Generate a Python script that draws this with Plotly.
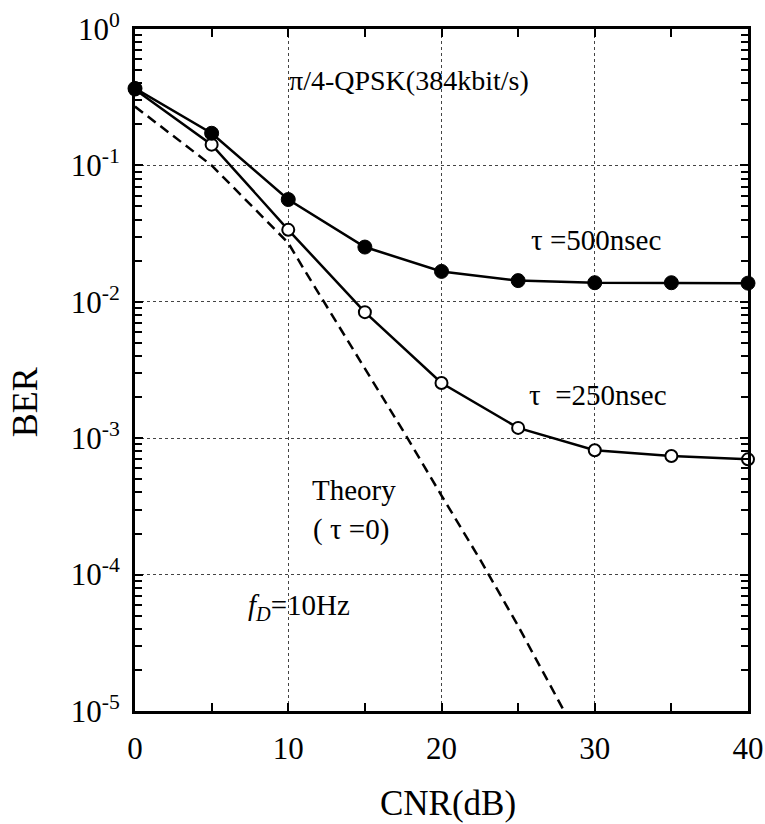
import plotly.graph_objects as go

# ---- data ----
cnr = [0, 5, 10, 15, 20, 25, 30, 35, 40]
ber_500 = [0.367, 0.172, 0.0562, 0.0252, 0.0167, 0.0143, 0.0138, 0.0138, 0.0137]
ber_250 = [0.36, 0.142, 0.0337, 0.0084, 0.00254, 0.00119, 0.000815, 0.00074, 0.00070]

cnr_theory = [0, 2.5, 5, 7.5, 10, 11, 12.5, 15, 17.5, 20, 22.5, 25, 28]
ber_theory = [0.27, 0.165, 0.1, 0.052, 0.027, 0.0175, 0.0093, 0.0032, 0.00113,
              0.00038, 0.00013, 4.2e-5, 1e-5]

x_ticks = [0, 10, 20, 30, 40]
x_minor = [5, 15, 25, 35]
y_ticks = [1e-5, 1e-4, 1e-3, 1e-2, 1e-1, 1]
y_ticktext = ["10<sup>-5</sup>", "10<sup>-4</sup>", "10<sup>-3</sup>",
              "10<sup>-2</sup>", "10<sup>-1</sup>", "10<sup>0</sup>"]
y_minor = [m * 10.0 ** e for e in range(-5, 0) for m in range(2, 10)]

FONT = "Liberation Serif, Times New Roman, serif"

fig = go.Figure()

fig.add_trace(go.Scatter(
    x=cnr_theory, y=ber_theory, mode="lines",
    line=dict(color="black", width=2.5, dash="10px,6px"),
    showlegend=False, cliponaxis=True))

fig.add_trace(go.Scatter(
    x=cnr, y=ber_250, mode="lines+markers",
    line=dict(color="black", width=2.5),
    marker=dict(symbol="circle", size=12, color="white",
                line=dict(color="black", width=2)),
    showlegend=False, cliponaxis=False))

fig.add_trace(go.Scatter(
    x=cnr, y=ber_500, mode="lines+markers",
    line=dict(color="black", width=2.5),
    marker=dict(symbol="circle", size=14, color="black",
                line=dict(color="black", width=1)),
    showlegend=False, cliponaxis=False))

grid = dict(showgrid=True, gridcolor="#444444", gridwidth=1, griddash="dot")

fig.update_xaxes(
    range=[0, 40], tickvals=x_ticks, ticktext=[str(v) for v in x_ticks],
    ticks="inside", ticklen=8, tickwidth=2, tickcolor="black",
    mirror="ticks", showline=True, linecolor="black", linewidth=3,
    tickfont=dict(family=FONT, size=31, color="black"),
    ticklabelstandoff=8, automargin=False, ticklabeloverflow="allow",
    minor=dict(tickvals=x_minor, ticks="inside", ticklen=8, tickwidth=2,
               tickcolor="black", showgrid=False),
    zeroline=False, **grid)

fig.update_yaxes(
    type="log", range=[-5, 0], tickvals=y_ticks, ticktext=y_ticktext,
    ticks="inside", ticklen=8, tickwidth=2, tickcolor="black",
    mirror="ticks", showline=True, linecolor="black", linewidth=3,
    tickfont=dict(family=FONT, size=31, color="black"),
    ticklabelstandoff=6, automargin=False, ticklabeloverflow="allow",
    minor=dict(tickvals=y_minor, ticks="inside", ticklen=7, tickwidth=2,
               tickcolor="black", showgrid=False),
    zeroline=False, **grid)

def ann(text, x, y, size=29, **kw):
    fig.add_annotation(text=text, x=x, y=y, showarrow=False, yanchor="middle",
                       font=dict(family=FONT, size=size, color="black"), **kw)

ann("π/4-QPSK(384kbit/s)", 9.9, -0.374, size=28, xanchor="left")
ann("τ\u00a0=500nsec", 25.7, -1.546, xanchor="left")
ann("τ\u00a0\u00a0=250nsec", 25.6, -2.68, xanchor="left")
ann("Theory", 11.4, -3.38, xanchor="left")
ann("(\u00a0τ\u00a0=0)", 11.5, -3.67, xanchor="left")
ann("<i>f</i><sub><i>D</i></sub>=10Hz", 14.15, -4.24, xanchor="right")

# axis titles
fig.add_annotation(text="CNR(dB)", xref="paper", yref="paper", x=0.51, y=-0.135,
                   xanchor="center", yanchor="middle", showarrow=False,
                   font=dict(family=FONT, size=35, color="black"))
fig.add_annotation(text="BER", xref="paper", yref="paper", x=-0.179, y=0.453,
                   xanchor="center", yanchor="middle",
                   textangle=-90, showarrow=False,
                   font=dict(family=FONT, size=36, color="black"))

fig.update_layout(
    width=765, height=824,
    margin=dict(l=135, r=17, t=29, b=113, autoexpand=False),
    paper_bgcolor="white", plot_bgcolor="white",
    showlegend=False,
)

# remove the browser's default 8px body margin so the figure fills the window exactly
fig.write_html("out.html",
               config={"displayModeBar": False},
               post_script="document.body.style.margin='0';"
                           "document.body.style.overflow='hidden';")
